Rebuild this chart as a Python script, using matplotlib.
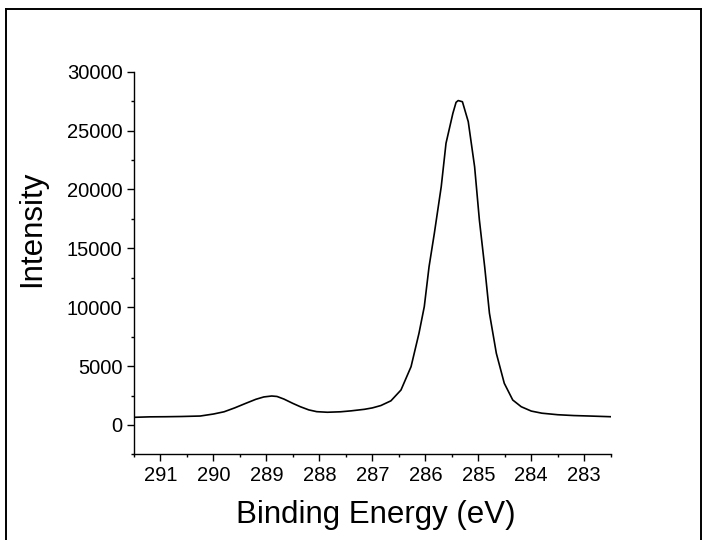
import matplotlib
matplotlib.use('Agg')
import matplotlib.pyplot as plt
from matplotlib.lines import Line2D
from matplotlib.ticker import MultipleLocator

plt.rcParams['font.family'] = ['Liberation Sans', 'DejaVu Sans']

# C 1s spectrum
energy = [291.5, 291.2, 290.9, 290.6, 290.25, 290.0, 289.8, 289.6, 289.4, 289.2,
          289.05, 288.9, 288.8, 288.67, 288.5, 288.36, 288.2, 288.05, 287.85, 287.6,
          287.4, 287.15, 287.0, 286.84, 286.65, 286.46, 286.27, 286.12, 286.02, 285.93,
          285.83, 285.7, 285.61, 285.48, 285.42, 285.38, 285.3, 285.19, 285.07, 284.98,
          284.88, 284.79, 284.66, 284.51, 284.35, 284.19, 284.0, 283.8, 283.5, 283.2,
          282.9, 282.5]
intensity = [650, 690, 700, 720, 760, 930, 1120, 1450, 1820, 2180,
             2380, 2460, 2420, 2200, 1830, 1550, 1280, 1130, 1080, 1120,
             1200, 1330, 1450, 1650, 2050, 2970, 4950, 7790, 10050, 13440,
             16280, 20240, 23920, 26470, 27400, 27550, 27450, 25760, 21930, 17410,
             13440, 9490, 6090, 3540, 2120, 1550, 1180, 1000, 870, 800,
             760, 700]

fig = plt.figure(figsize=(7.02, 5.4), dpi=100)
ax = fig.add_axes([0.1909, 0.1585, 0.6791, 0.7087])

ax.plot(energy, intensity, color='black', linewidth=1.2)

ax.set_xlim(291.5, 282.5)
ax.set_ylim(-2500, 30000)
ax.xaxis.set_major_locator(MultipleLocator(1))
ax.xaxis.set_minor_locator(MultipleLocator(0.5))
ax.yaxis.set_major_locator(MultipleLocator(5000))
ax.yaxis.set_minor_locator(MultipleLocator(2500))

ax.spines['top'].set_visible(False)
ax.spines['right'].set_visible(False)
for s in ['left', 'bottom']:
    ax.spines[s].set_linewidth(1.0)

ax.tick_params(which='major', direction='out', length=5, width=1.0, labelsize=14.5)
ax.tick_params(which='minor', direction='out', length=2.4, width=1.0)
ax.tick_params(axis='y', which='major', pad=3.3)
ax.tick_params(axis='x', which='major', pad=3)

ax.set_xlabel('Binding Energy (eV)', fontsize=22.5)
ax.set_ylabel('Intensity', fontsize=22.5)
ax.xaxis.set_label_coords(0.508, -0.118)
ax.yaxis.set_label_coords(-0.213, 0.589)
ax.yaxis.label.set_va('center')

# frame around the figure (left, top, right)
kw = dict(color='black', linewidth=1.4, transform=fig.transFigure)
fig.add_artist(Line2D([0.0085, 0.0085], [0.0, 0.983], **kw))
fig.add_artist(Line2D([0.0085, 0.9985], [0.983, 0.983], **kw))
fig.add_artist(Line2D([0.9985, 0.9985], [0.0, 0.983], **kw))

fig.savefig('out.png', dpi=100)
